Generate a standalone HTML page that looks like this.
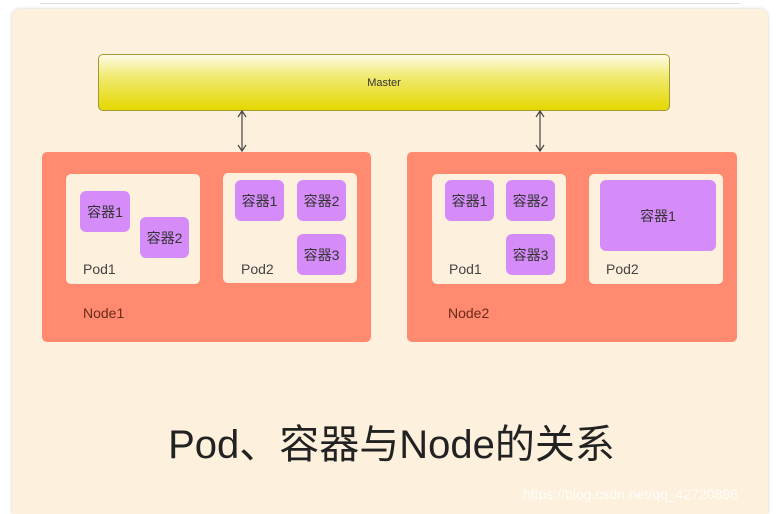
<!DOCTYPE html>
<html style="width:777px;height:514px;overflow:hidden"><head><meta charset="utf-8"><style>
*{margin:0;padding:0;box-sizing:border-box}
body{width:777px;height:514px;background:#fff;position:relative;overflow:hidden;font-family:"Liberation Sans","Noto Sans CJK SC",sans-serif}
.a{position:absolute}
.panel{left:12px;top:9px;width:756px;height:505px;background:#fdf0dc;border-radius:8px 8px 0 0;box-shadow:0 0 3px #ccc}
.master{left:98px;top:54px;width:572px;height:57px;border:1px solid #a09a30;border-radius:5px;background:linear-gradient(#fffbe8 0%,#f0ea70 40%,#e5d800 100%);font-size:11px;color:#333;text-align:center;line-height:56px}
.node{background:#ff8a70;border-radius:5px}
.pod{background:#fdf0dc;border-radius:5px}
.c{background:#d68cf8;border-radius:6px;font-size:14px;color:#333;text-align:center;display:flex;align-items:center;justify-content:center}
.lbl{font-size:14px;color:#444}
.nl{font-size:14px;color:#6a2a1a}
</style></head><body>
<div class="a" style="left:40px;top:0;width:700px;height:4px;border-bottom:1px solid #ddd"></div>
<div class="a panel"></div>
<div class="a master">Master</div>
<svg class="a" style="left:0;top:0" width="777" height="514">
<g stroke="#444" stroke-width="1.2" fill="none">
<line x1="242" y1="112" x2="242" y2="150"/><polyline points="238,117 242,111 246,117"/><polyline points="238,145 242,151 246,145"/>
<line x1="540" y1="112" x2="540" y2="150"/><polyline points="536,117 540,111 544,117"/><polyline points="536,145 540,151 544,145"/>
</g></svg>
<div class="a node" style="left:42px;top:152px;width:329px;height:190px"></div>
<div class="a pod" style="left:66px;top:174px;width:134px;height:110px"></div>
<div class="a pod" style="left:223px;top:173px;width:134px;height:110px"></div>
<div class="a c" style="left:80px;top:191px;width:50px;height:41px">容器1</div>
<div class="a c" style="left:140px;top:217px;width:49px;height:41px">容器2</div>
<div class="a c" style="left:235px;top:180px;width:49px;height:41px">容器1</div>
<div class="a c" style="left:297px;top:180px;width:49px;height:41px">容器2</div>
<div class="a c" style="left:297px;top:234px;width:49px;height:41px">容器3</div>
<div class="a lbl" style="left:83px;top:261px">Pod1</div>
<div class="a lbl" style="left:241px;top:261px">Pod2</div>
<div class="a nl" style="left:83px;top:305px">Node1</div>
<div class="a node" style="left:407px;top:152px;width:330px;height:190px"></div>
<div class="a pod" style="left:432px;top:174px;width:134px;height:110px"></div>
<div class="a pod" style="left:589px;top:174px;width:134px;height:110px"></div>
<div class="a c" style="left:445px;top:180px;width:49px;height:41px">容器1</div>
<div class="a c" style="left:506px;top:180px;width:49px;height:41px">容器2</div>
<div class="a c" style="left:506px;top:234px;width:49px;height:41px">容器3</div>
<div class="a c" style="left:600px;top:180px;width:116px;height:71px">容器1</div>
<div class="a lbl" style="left:449px;top:261px">Pod1</div>
<div class="a lbl" style="left:606px;top:261px">Pod2</div>
<div class="a nl" style="left:448px;top:305px">Node2</div>
<div class="a" style="left:0;width:777px;top:412px;text-align:center;font-size:40px;color:#222;padding-left:6px">Pod、容器与Node的关系</div>
<div class="a" style="left:523px;top:486px;font-size:14px;color:#fff;opacity:.9">https://blog.csdn.net/qq_42720896</div>
</body></html>
